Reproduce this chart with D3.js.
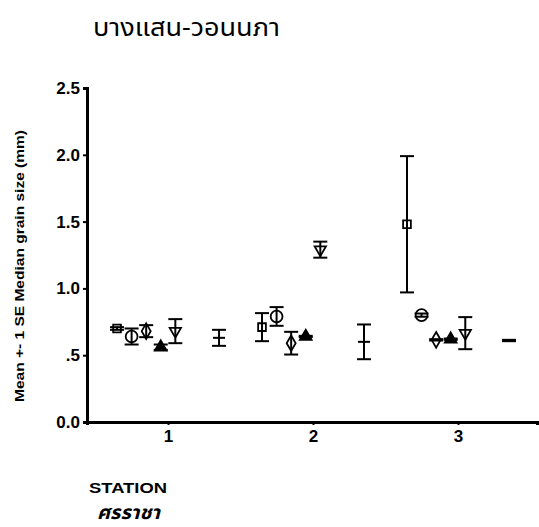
<!DOCTYPE html>
<html>
<head>
<meta charset="utf-8">
<script src="https://cdn.jsdelivr.net/npm/d3@7"></script>
<style>
  body { margin: 0; background: #fff; }
  svg text { font-family: "Liberation Sans", Arial, sans-serif; fill: #000; }
</style>
</head>
<body>
<svg width="539" height="527"></svg>
<script>
// stations on the x axis
var stations = [1, 2, 3];
var yTicks = [0, 0.5, 1.0, 1.5, 2.0, 2.5];
var yTickLabels = ["0.0", ".5", "1.0", "1.5", "2.0", "2.5"];

// cluster members (8 slots, two of them empty in the original)
var series = ["S1", "S2", "S3", "S4", "S5", "S6", "S7", "S8"];
var shapes = ["square", "circle", "diamond", "triangle", "triangleDown", "none", "none", "dash"];

// mean per station, one array per series
var meanS1 = [0.70, 0.71, 1.48];
var meanS2 = [0.64, 0.79, 0.80];
var meanS3 = [0.68, 0.59, 0.615];
var meanS4 = [0.56, 0.64, 0.62];
var meanS5 = [0.68, 1.29, 0.665];
var meanS6 = [null, null, null];
var meanS7 = [null, null, null];
var meanS8 = [0.63, 0.60, 0.61];

// standard error per station
var seS1 = [0.01, 0.105, 0.51];
var seS2 = [0.06, 0.07, 0.012];
var seS3 = [0.045, 0.085, 0.005];
var seS4 = [0.02, 0.005, 0.005];
var seS5 = [0.09, 0.06, 0.12];
var seS6 = [null, null, null];
var seS7 = [null, null, null];
var seS8 = [0.06, 0.13, 0.005];

var means = [meanS1, meanS2, meanS3, meanS4, meanS5, meanS6, meanS7, meanS8];
var ses = [seS1, seS2, seS3, seS4, seS5, seS6, seS7, seS8];

window.addEventListener("DOMContentLoaded", function () {
    drawChart();
});

function drawChart() {
    var svg = d3.select("svg");

    var x = d3.scaleLinear().domain([0.441, 3.545]).range([87, 537]);
    var y = d3.scaleLinear().domain([0, 2.5]).range([422, 88]);
    var offset = d3.scalePoint().domain(series).range([-51, 51]);

    // title
    svg.append("text")
        .attr("x", 93)
        .attr("y", 36)
        .attr("textLength", 187)
        .attr("lengthAdjust", "spacingAndGlyphs")
        .style("font-family", "'Noto Sans Thai', 'Noto Sans', 'DejaVu Sans', sans-serif")
        .style("font-size", "25px")
        .text("บางแสน-วอนนภา");

    // Y axis
    var yAxis = svg.append("g")
        .attr("transform", "translate(87,0)")
        .call(d3.axisLeft(y).tickValues(yTicks).tickSize(4).tickPadding(3)
            .tickFormat(function (d, i) { return yTickLabels[i]; }));
    yAxis.select(".domain").attr("stroke", "#000").attr("stroke-width", 3);
    yAxis.selectAll(".tick line").attr("stroke-width", 2);
    yAxis.selectAll("text")
        .style("font-size", "17px")
        .style("font-weight", "bold");

    // X axis
    var xAxis = svg.append("g")
        .attr("transform", "translate(0,422)")
        .call(d3.axisBottom(x).tickValues(stations).tickSize(3).tickPadding(5)
            .tickFormat(d3.format("d")));
    xAxis.select(".domain").attr("stroke", "#000").attr("stroke-width", 3);
    xAxis.selectAll(".tick line").attr("stroke-width", 2);
    xAxis.selectAll("text")
        .style("font-size", "17px")
        .style("font-weight", "bold");

    // axis titles
    svg.append("text")
        .attr("transform", "translate(24,266) rotate(-90)")
        .attr("text-anchor", "middle")
        .attr("textLength", 272)
        .attr("lengthAdjust", "spacingAndGlyphs")
        .style("font-size", "12px")
        .style("font-weight", "bold")
        .text("Mean +- 1 SE Median grain size (mm)");

    svg.append("text")
        .attr("x", 89)
        .attr("y", 493)
        .attr("textLength", 78)
        .attr("lengthAdjust", "spacingAndGlyphs")
        .style("font-size", "14px")
        .style("font-weight", "bold")
        .text("STATION");

    svg.append("text")
        .attr("x", 97)
        .attr("y", 519)
        .attr("textLength", 63)
        .attr("lengthAdjust", "spacingAndGlyphs")
        .style("font-family", "'Noto Sans Thai', 'Noto Sans', 'DejaVu Sans', sans-serif")
        .style("font-size", "19px")
        .style("font-weight", "bold")
        .style("font-style", "italic")
        .text("ศรราชา");

    // flatten into points
    var points = [];
    series.forEach(function (s, i) {
        stations.forEach(function (st, j) {
            if (means[i][j] == null) return;
            points.push({series: s, shape: shapes[i], station: st, mean: means[i][j], se: ses[i][j]});
        });
    });

    var g = svg.append("g");
    var cap = 7;

    var bars = g.selectAll(".bar")
        .data(points)
        .enter()
        .append("g")
        .attr("class", "bar")
        .attr("transform", function (d) { return "translate(" + (x(d.station) + offset(d.series)) + ",0)"; });

    bars.append("line")
        .attr("x1", 0).attr("x2", 0)
        .attr("y1", function (d) { return y(d.mean + d.se); })
        .attr("y2", function (d) { return y(d.mean - d.se); })
        .attr("stroke", "#000").attr("stroke-width", 2);
    bars.append("line")
        .attr("x1", -cap).attr("x2", cap)
        .attr("y1", function (d) { return y(d.mean + d.se); })
        .attr("y2", function (d) { return y(d.mean + d.se); })
        .attr("stroke", "#000").attr("stroke-width", 2);
    bars.append("line")
        .attr("x1", -cap).attr("x2", cap)
        .attr("y1", function (d) { return y(d.mean - d.se); })
        .attr("y2", function (d) { return y(d.mean - d.se); })
        .attr("stroke", "#000").attr("stroke-width", 2);

    // markers
    var symType = {
        square: d3.symbolSquare,
        circle: d3.symbolCircle,
        diamond: d3.symbolDiamond,
        triangle: d3.symbolTriangle,
        triangleDown: d3.symbolTriangle
    };
    var symSize = {square: 60, circle: 110, diamond: 70, triangle: 60, triangleDown: 55};

    bars.filter(function (d) { return symType[d.shape]; })
        .append("path")
        .attr("d", function (d) { return d3.symbol().type(symType[d.shape]).size(symSize[d.shape])(); })
        .attr("transform", function (d) {
            return "translate(0," + y(d.mean) + ")" + (d.shape === "triangleDown" ? " rotate(180)" : "");
        })
        .attr("fill", function (d) { return d.shape === "triangle" ? "#000" : "none"; })
        .attr("stroke", "#000")
        .attr("stroke-width", 1.8);

    bars.filter(function (d) { return d.shape === "dash"; })
        .append("line")
        .attr("x1", -6).attr("x2", 6)
        .attr("y1", function (d) { return y(d.mean); })
        .attr("y2", function (d) { return y(d.mean); })
        .attr("stroke", "#000").attr("stroke-width", 2);
}
</script>
</body>
</html>
